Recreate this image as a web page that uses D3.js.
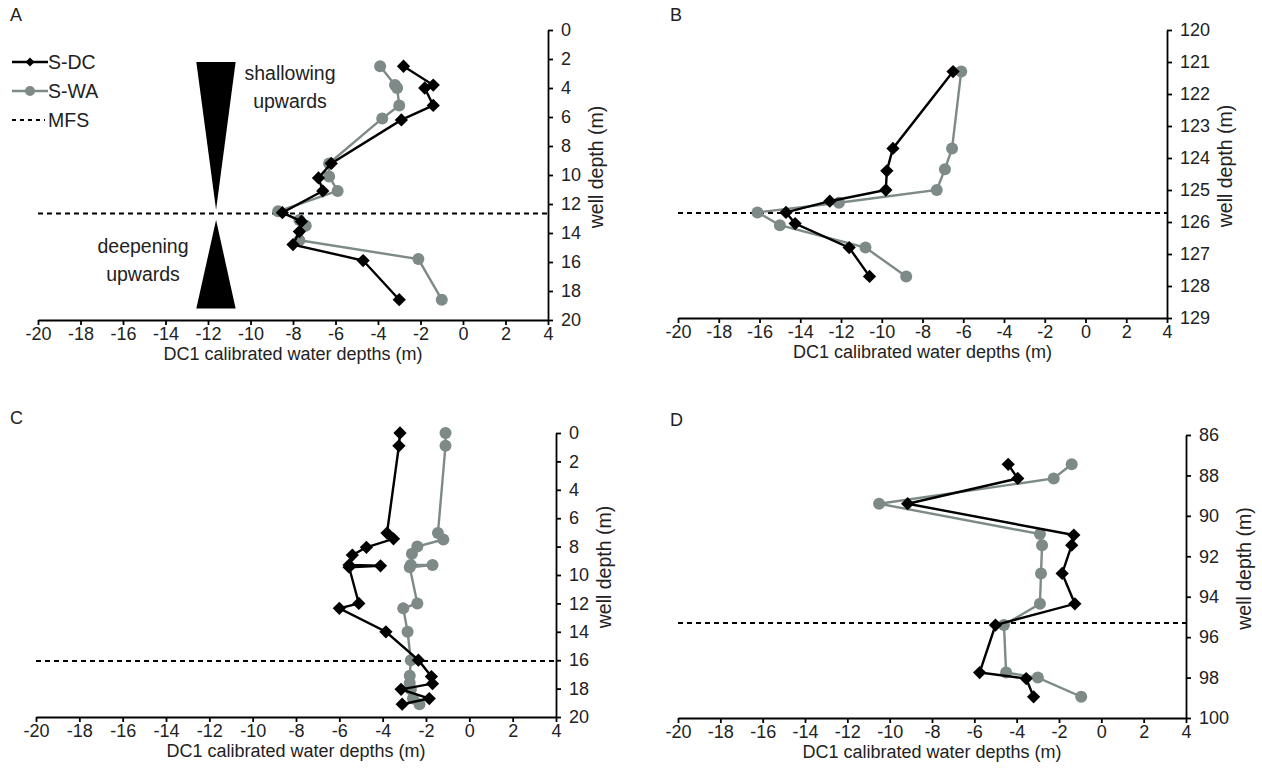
<!DOCTYPE html>
<html>
<head>
<meta charset="utf-8">
<script src="https://cdn.jsdelivr.net/npm/d3@7"></script>
<style>
  body { margin: 0; background: #fff; }
  svg { font-family: "Liberation Sans", Arial, sans-serif; }
</style>
</head>
<body>
<svg id="chart" width="1262" height="782"></svg>
<script>
// ---- data ----
const seriesNames = ["S-DC", "S-WA", "MFS"];
const xTicks = [-20, -18, -16, -14, -12, -10, -8, -6, -4, -2, 0, 2, 4];
const depthTicksAC = [0, 2, 4, 6, 8, 10, 12, 14, 16, 18, 20];
const depthTicksB = [120, 121, 122, 123, 124, 125, 126, 127, 128, 129];
const depthTicksD = [86, 88, 90, 92, 94, 96, 98, 100];

// panel A
const depthA_DC = [2.5, 3.8, 4.0, 5.2, 6.2, 9.2, 10.2, 11.1, 12.6, 13.2, 13.9, 14.8, 15.9, 18.6];
const waterA_DC = [-2.8, -1.4, -1.8, -1.4, -2.9, -6.2, -6.8, -6.6, -8.5, -7.6, -7.7, -8.0, -4.7, -3.0];
const depthA_WA = [2.5, 3.8, 4.0, 5.2, 6.1, 9.2, 10.1, 11.1, 12.5, 13.1, 13.5, 14.5, 15.8, 18.6];
const waterA_WA = [-3.9, -3.2, -3.1, -3.0, -3.8, -6.3, -6.3, -5.9, -8.7, -7.7, -7.4, -7.7, -2.1, -1.0];
const mfsA = 12.65;

// panel B
const depthB_DC = [121.3, 123.7, 124.4, 125.0, 125.35, 125.7, 126.05, 126.8, 127.7];
const waterB_DC = [-6.5, -9.45, -9.75, -9.8, -12.55, -14.7, -14.25, -11.6, -10.6];
const depthB_WA = [121.3, 123.7, 124.35, 125.0, 125.4, 125.7, 126.1, 126.8, 127.7];
const waterB_WA = [-6.1, -6.55, -6.9, -7.3, -12.1, -16.1, -15.0, -10.8, -8.8];
const mfsB = 125.72;

// panel C
const depthC_DC = [0, 0.9, 7.05, 7.45, 8.05, 8.6, 9.3, 9.35, 9.45, 12.0, 12.35, 14.0, 16.0, 17.15, 17.65, 18.05, 18.7, 19.1];
const waterC_DC = [-3.2, -3.25, -3.8, -3.5, -4.75, -5.4, -5.55, -4.1, -5.55, -5.1, -6.0, -3.85, -2.35, -1.75, -1.7, -3.15, -1.85, -3.1];
const depthC_WA = [0, 0.9, 7.05, 7.5, 8.0, 8.5, 9.3, 9.3, 9.45, 12.0, 12.35, 14.0, 16.0, 17.1, 17.6, 18.05, 18.7, 19.1];
const waterC_WA = [-1.1, -1.1, -1.45, -1.2, -2.4, -2.65, -2.7, -1.7, -2.75, -2.4, -3.05, -2.85, -2.7, -2.75, -2.75, -2.7, -2.6, -2.3];
const mfsC = 16.05;

// panel D
const depthD_DC = [87.45, 88.15, 89.4, 90.95, 91.45, 92.85, 94.35, 95.4, 97.75, 98.05, 98.95];
const waterD_DC = [-4.4, -3.95, -9.15, -1.3, -1.4, -1.85, -1.25, -5.0, -5.75, -3.55, -3.2];
const depthD_WA = [87.45, 88.15, 89.4, 90.9, 91.45, 92.85, 94.35, 95.4, 97.75, 98.0, 98.95];
const waterD_WA = [-1.4, -2.25, -10.5, -2.9, -2.8, -2.85, -2.9, -4.6, -4.5, -3.0, -0.95];
const mfsD = 95.3;

// shallowing / deepening wedges in panel A (water depth, well depth)
const shallowWedge = [[-12.55, 2.2], [-10.7, 2.2], [-11.62, 12.4]];
const deepWedge = [[-11.62, 13.1], [-10.7, 19.2], [-12.55, 19.2]];

// ---- styling ----
const colDC = "#000000";
const colWA = "#7d8a88";
const tickFont = 18;
const titleFont = 18;

const zip = (xs, ys) => xs.map((v, i) => [v, ys[i]]);

const panels = [
  { id: "A", left: 38, right: 548, top: 30, bottom: 320, domain: [0, 20], ticks: depthTicksAC,
    dc: zip(waterA_DC, depthA_DC), wa: zip(waterA_WA, depthA_WA), mfs: mfsA },
  { id: "B", left: 678, right: 1167, top: 30, bottom: 318, domain: [120, 129], ticks: depthTicksB,
    dc: zip(waterB_DC, depthB_DC), wa: zip(waterB_WA, depthB_WA), mfs: mfsB },
  { id: "C", left: 36, right: 556, top: 433, bottom: 717, domain: [0, 20], ticks: depthTicksAC,
    dc: zip(waterC_DC, depthC_DC), wa: zip(waterC_WA, depthC_WA), mfs: mfsC },
  { id: "D", left: 678, right: 1186, top: 435, bottom: 718, domain: [86, 100], ticks: depthTicksD,
    dc: zip(waterD_DC, depthD_DC), wa: zip(waterD_WA, depthD_WA), mfs: mfsD }
];

const svg = d3.select("#chart");

// rotated square = diamond marker
const diamond = d3.symbol().type(d3.symbolSquare).size(88);

panels.forEach(p => {
  const x = d3.scaleLinear().domain([-20, 4]).range([p.left, p.right]);
  const y = d3.scaleLinear().domain(p.domain).range([p.top, p.bottom]);
  const g = svg.append("g");

  // x axis
  const xAxis = g.append("g")
    .attr("transform", `translate(0,${p.bottom})`)
    .call(d3.axisBottom(x).tickValues(xTicks).tickSize(5).tickSizeOuter(0).tickPadding(2)
      .tickFormat(d => String(d)));

  // y axis on the right
  const yAxis = g.append("g")
    .attr("transform", `translate(${p.right},0)`)
    .call(d3.axisRight(y).tickValues(p.ticks).tickSize(5).tickSizeOuter(0).tickPadding(8)
      .tickFormat(d => String(d)));

  [xAxis, yAxis].forEach(a => {
    a.attr("font-size", tickFont).attr("font-family", null);
    a.selectAll("path, line").attr("stroke", "#000").attr("stroke-width", 1.8);
    a.selectAll("text").attr("fill", "#222");
  });

  // axis titles
  g.append("text")
    .attr("x", (p.left + p.right) / 2)
    .attr("y", p.bottom + 40)
    .attr("text-anchor", "middle")
    .attr("font-size", titleFont)
    .attr("fill", "#222")
    .text("DC1 calibrated water depths (m)");

  const labelRight = d3.max(yAxis.selectAll("text").nodes(), n => n.getBBox().width) + p.right + 13;
  g.append("text")
    .attr("transform", `translate(${labelRight + 22},${(p.top + p.bottom) / 2 - 8}) rotate(-90)`)
    .attr("text-anchor", "middle")
    .attr("font-size", 19.5)
    .attr("fill", "#222")
    .text("well depth (m)");

  // panel letter
  g.append("text")
    .attr("x", p.id === "A" || p.id === "C" ? 10 : 670)
    .attr("y", p.top - 9)
    .attr("font-size", 18)
    .attr("fill", "#222")
    .text(p.id);

  // maximum flooding surface
  g.append("line")
    .attr("x1", x(-20)).attr("x2", x(4))
    .attr("y1", y(p.mfs)).attr("y2", y(p.mfs))
    .attr("stroke", "#000")
    .attr("stroke-width", 2)
    .attr("stroke-dasharray", "5,4");

  const line = d3.line().x(d => x(d[0])).y(d => y(d[1]));

  // S-WA (grey circles)
  g.append("path").datum(p.wa)
    .attr("d", line).attr("fill", "none")
    .attr("stroke", colWA).attr("stroke-width", 2.4);
  g.append("g").selectAll("circle").data(p.wa).enter().append("circle")
    .attr("cx", d => x(d[0])).attr("cy", d => y(d[1]))
    .attr("r", 6).attr("fill", colWA);

  // S-DC (black diamonds)
  g.append("path").datum(p.dc)
    .attr("d", line).attr("fill", "none")
    .attr("stroke", colDC).attr("stroke-width", 2.4);
  g.append("g").selectAll("path").data(p.dc).enter().append("path")
    .attr("d", diamond)
    .attr("transform", d => `translate(${x(d[0])},${y(d[1])}) rotate(45)`)
    .attr("fill", colDC);

  // wedges and annotation only in panel A
  if (p.id === "A") {
    [shallowWedge, deepWedge].forEach(w => {
      g.append("path")
        .attr("d", "M" + w.map(d => [x(d[0]), y(d[1])].join(",")).join("L") + "Z")
        .attr("fill", "#000");
    });
    const note = (lines, cx, cy) => {
      lines.forEach((t, i) => {
        g.append("text")
          .attr("x", cx).attr("y", cy + i * 28)
          .attr("text-anchor", "middle")
          .attr("font-size", 19.5)
          .attr("fill", "#222")
          .text(t);
      });
    };
    note(["shallowing", "upwards"], 290, 80);
    note(["deepening", "upwards"], 143, 253);

    // legend
    const leg = g.append("g");
    const rows = [62, 91, 120];
    rows.forEach((ry, i) => {
      const name = seriesNames[i];
      if (i < 2) {
        leg.append("line").attr("x1", 12).attr("x2", 48).attr("y1", ry).attr("y2", ry)
          .attr("stroke", i === 0 ? colDC : colWA).attr("stroke-width", 2.5);
      } else {
        leg.append("line").attr("x1", 12).attr("x2", 45).attr("y1", ry).attr("y2", ry)
          .attr("stroke", "#000").attr("stroke-width", 2).attr("stroke-dasharray", "4,4");
      }
      if (i === 0) {
        leg.append("path").attr("d", d3.symbol().type(d3.symbolSquare).size(40))
          .attr("transform", `translate(30,${ry}) rotate(45)`).attr("fill", colDC);
      } else if (i === 1) {
        leg.append("circle").attr("cx", 30).attr("cy", ry).attr("r", 5).attr("fill", colWA);
      }
      leg.append("text").attr("x", 48).attr("y", ry + 7)
        .attr("font-size", 19.5).attr("fill", "#222").text(name);
    });
  }
});
</script>
</body>
</html>
